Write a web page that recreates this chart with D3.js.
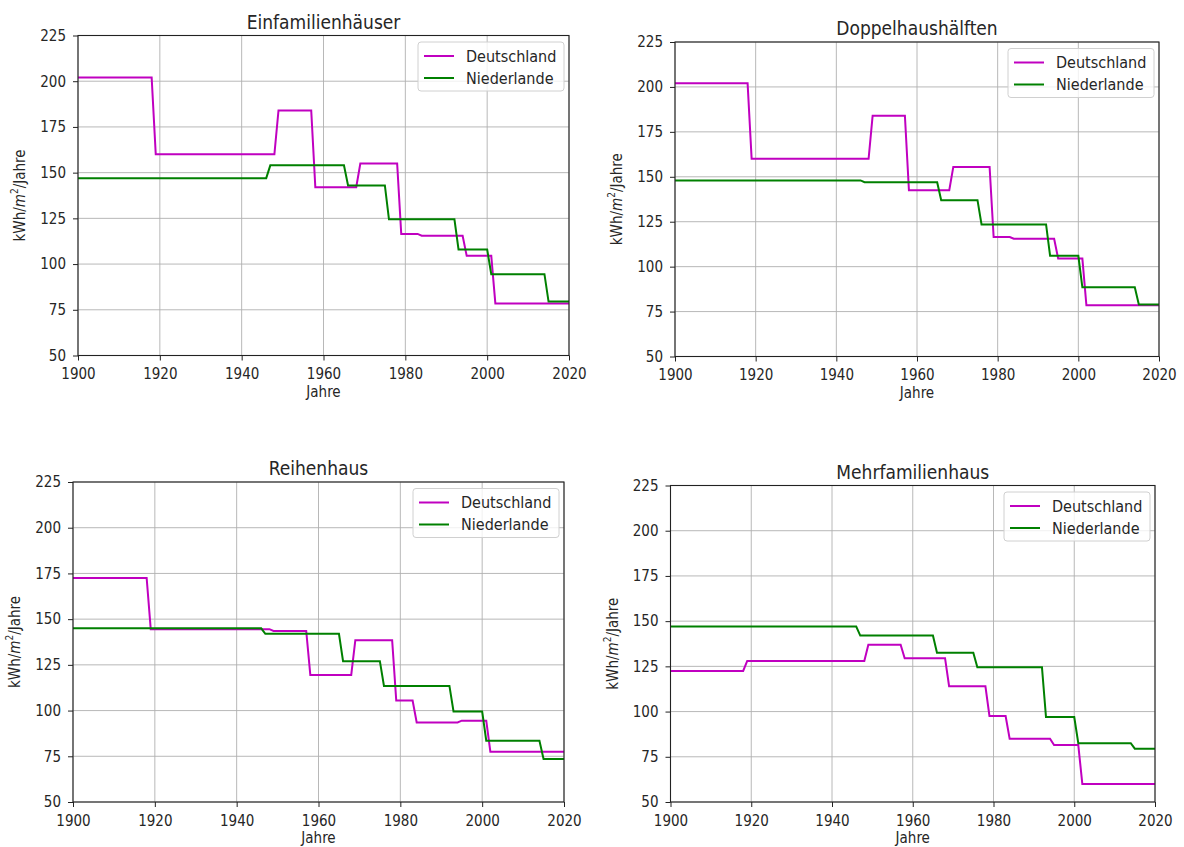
<!DOCTYPE html>
<html>
<head>
<meta charset="utf-8">
<script src="https://cdn.jsdelivr.net/npm/d3@7/dist/d3.min.js"></script>
<style>
	body { margin: 0; background: #fff; }
	svg text { font-family: "DejaVu Sans Condensed", "DejaVu Sans", sans-serif; font-stretch: condensed; fill: #262626; }
</style>
</head>
<body>
<svg width="1184" height="847"></svg>
<script>
var titles = ['Einfamilienhäuser', 'Doppelhaushälften', 'Reihenhaus', 'Mehrfamilienhaus'];
var series_names = ['Deutschland', 'Niederlande'];

// year in which each level starts (each change takes one year)
var de_years = [1900, 1919, 1949, 1958, 1969, 1979, 1984, 1995, 2002];
var nl_years = [1900, 1947, 1966, 1976, 1993, 2001, 2015];

var de_einfamilien = [202, 160, 184, 142, 155, 116.5, 115.5, 104.5, 78.5];
var nl_einfamilien = [147, 154, 143, 124.5, 108, 94.5, 79.5];
var de_doppelhaus = [202, 160, 184, 142.5, 155.5, 116.5, 115.5, 104.5, 78.5];
var nl_doppelhaus = [148, 147, 137, 123.5, 106, 88.5, 79];
var de_reihenhaus = [172.5, 144.5, 143.5, 119.5, 138.5, 105.5, 93.5, 94.5, 77.5];
var nl_reihenhaus = [145, 142, 127, 113.5, 99.5, 83.5, 73.5];
var de_mehrfamilien = [122.5, 128, 137, 129.5, 114, 97.5, 85, 81.5, 60];
var nl_mehrfamilien = [147, 142, 132.5, 124.5, 97, 82.5, 79.5];

var x_ticks = [1900, 1920, 1940, 1960, 1980, 2000, 2020];
var y_ticks = [50, 75, 100, 125, 150, 175, 200, 225];

var panel_data = [
	[de_einfamilien, nl_einfamilien],
	[de_doppelhaus, nl_doppelhaus],
	[de_reihenhaus, nl_reihenhaus],
	[de_mehrfamilien, nl_mehrfamilien]
];

var frames = [
	{ left: 78, top: 35.5, right: 569, bottom: 355.5 },
	{ left: 675, top: 42, right: 1159, bottom: 356.5 },
	{ left: 73, top: 482, right: 564, bottom: 802 },
	{ left: 670.5, top: 485.5, right: 1155, bottom: 802 }
];
var colors = ['#c000c0', '#008000'];

var svg = d3.select('svg');

function step_points(years, values, end)
{
	var pts = [];
	years.forEach(function(yr, i)
	{
		var last = i + 1 < years.length ? years[i + 1] - 1 : end;
		pts.push([yr, values[i]]);
		pts.push([last, values[i]]);
	});
	return pts;
}

frames.forEach(function(f, p)
{
	var g = svg.append('g');
	var x = d3.scaleLinear().domain([1900, 2020]).range([f.left, f.right]);
	var y = d3.scaleLinear().domain([50, 225]).range([f.bottom, f.top]);

	// Grid
	g.selectAll('.gx').data(x_ticks).enter().append('line')
		.attr('x1', d => x(d)).attr('x2', d => x(d))
		.attr('y1', f.top).attr('y2', f.bottom)
		.attr('stroke', '#b0b0b0').attr('stroke-width', 0.9);
	g.selectAll('.gy').data(y_ticks).enter().append('line')
		.attr('x1', f.left).attr('x2', f.right)
		.attr('y1', d => y(d)).attr('y2', d => y(d))
		.attr('stroke', '#b0b0b0').attr('stroke-width', 0.9);

	// Series
	var line = d3.line().x(d => x(d[0])).y(d => y(d[1]));
	var years = [de_years, nl_years];
	panel_data[p].forEach(function(vals, s)
	{
		g.append('path')
			.attr('d', line(step_points(years[s], vals, 2020)))
			.attr('fill', 'none')
			.attr('stroke', colors[s])
			.attr('stroke-width', 2);
	});

	// Axes
	var xa = g.append('g')
		.attr('transform', 'translate(0,' + f.bottom + ')')
		.call(d3.axisBottom(x).tickValues(x_ticks).tickFormat(d3.format('d')).tickSize(5).tickPadding(8));
	var ya = g.append('g')
		.attr('transform', 'translate(' + f.left + ',0)')
		.call(d3.axisLeft(y).tickValues(y_ticks).tickSize(5).tickPadding(7));
	[xa, ya].forEach(function(a)
	{
		a.select('.domain').remove();
		a.selectAll('line').attr('stroke', '#222');
		a.selectAll('text').attr('font-size', 15).attr('font-family', null);
	});

	g.append('rect')
		.attr('x', f.left).attr('y', f.top)
		.attr('width', f.right - f.left).attr('height', f.bottom - f.top)
		.attr('fill', 'none').attr('stroke', '#222').attr('stroke-width', 1.1);

	// Labels
	var cx = (f.left + f.right) / 2, cy = (f.top + f.bottom) / 2;
	g.append('text')
		.attr('x', cx).attr('y', f.top - 7)
		.attr('text-anchor', 'middle').attr('font-size', 19)
		.text(titles[p]);
	g.append('text')
		.attr('x', cx).attr('y', f.bottom + 41)
		.attr('text-anchor', 'middle').attr('font-size', 15)
		.text('Jahre');
	var yl = g.append('text')
		.attr('transform', 'translate(' + (f.left - 58) + ',' + cy + ') rotate(-90)')
		.attr('text-anchor', 'middle').attr('dominant-baseline', 'central').attr('font-size', 15);
	yl.append('tspan').text('kWh/');
	yl.append('tspan').attr('font-style', 'italic').text('m');
	yl.append('tspan').attr('font-size', 10).attr('dy', -6).text('2');
	yl.append('tspan').attr('dy', 6).text('/Jahre');

	// Legend
	var lw = 146, lh = 49;
	var lx = f.right - 5 - lw, ly = f.top + 6.5;
	var lg = g.append('g').attr('transform', 'translate(' + lx + ',' + ly + ')');
	lg.append('rect')
		.attr('width', lw).attr('height', lh).attr('rx', 3)
		.attr('fill', '#fff').attr('fill-opacity', 0.8)
		.attr('stroke', '#d0d0d0');
	var rows = lg.selectAll('.row').data(series_names).enter().append('g')
		.attr('transform', (d, i) => 'translate(0,' + (14 + 22 * i) + ')');
	rows.append('line')
		.attr('x1', 6).attr('x2', 36)
		.attr('stroke', (d, i) => colors[i]).attr('stroke-width', 2);
	rows.append('text')
		.attr('x', 48).attr('dominant-baseline', 'central').attr('font-size', 16)
		.text(d => d);
});
</script>
</body>
</html>
